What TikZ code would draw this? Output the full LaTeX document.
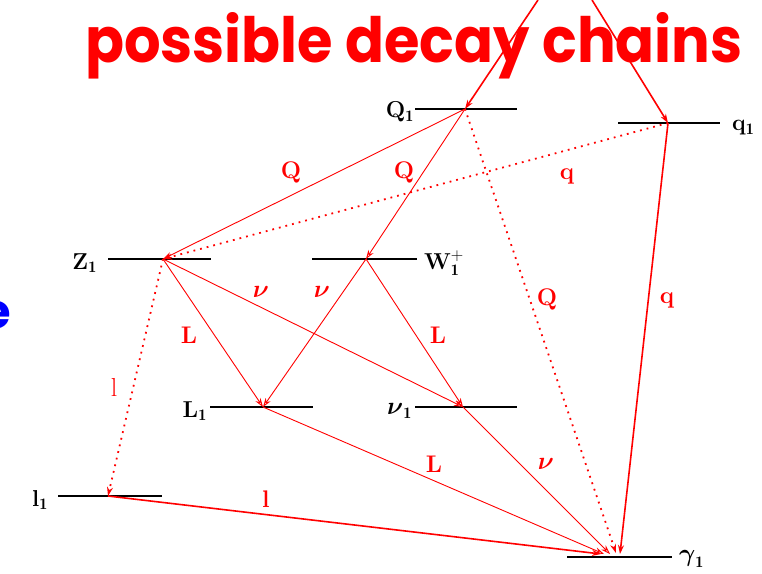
\documentclass[tikz,border=0pt]{standalone}
\usepackage{amsmath}
\usepackage{fontspec}
\usepackage{graphicx}
\usetikzlibrary{arrows.meta}
\newfontfamily\titlefont{Poppins}
\begin{document}
\begin{tikzpicture}[x=1pt,y=-1pt,
  lvl/.style={draw=black,line width=1.3pt},
  tipa/.style={-{Stealth[open,length=9pt,width=6pt]}},
  dk/.style={draw=red,line width=0.9pt,tipa},
  thk/.style={draw=red,line width=1.6pt,tipa},
  dt/.style={draw=red,line width=1.8pt,dash pattern=on 1.8pt off 5pt,tipa},
  rl/.style={text=red,inner sep=0pt,font=\bfseries\fontsize{24}{24}\selectfont},
  rg/.style={text=red,inner sep=0pt,font=\fontsize{26}{26}\selectfont},
  bl/.style={text=black,inner sep=0pt,font=\bfseries\fontsize{23}{23}\selectfont}]
\useasboundingbox (0,0) rectangle (762,573);
% title and cut-off letter
\node[anchor=base west,inner sep=0pt,text=red] (title) at (85,62)
  {\resizebox{657pt}{50pt}{\titlefont\bfseries possible decay chains}};
\node[anchor=base east,inner sep=0pt,text=blue] (bluee) at (11,328)
  {\titlefont\bfseries\fontsize{48}{48}\selectfont e};
% level lines
\draw[lvl] (415,109) -- (517,109);
\draw[lvl] (618,123) -- (720,123);
\draw[lvl] (108,259) -- (211,259);
\draw[lvl] (312,259) -- (417,259);
\draw[lvl] (210,407) -- (313,407);
\draw[lvl] (415,407) -- (517,407);
\draw[lvl] (58,496) -- (162,496);
\draw[lvl] (567,557) -- (672,557);
% vertices
\coordinate (Q1) at (465,109);
\coordinate (q1) at (668,123);
\coordinate (Z1) at (163,259);
\coordinate (W1) at (366,259);
\coordinate (L1) at (263,407);
\coordinate (nu1) at (463,407);
\coordinate (l1) at (108,496);
\coordinate (gl) at (601,554);
\coordinate (gL) at (604,554);
\coordinate (gnu) at (610,554);
\coordinate (gQ) at (616,553);
\coordinate (gq) at (620,554);
\coordinate (topQ) at (538,0);
\coordinate (topq) at (592,0);
% level labels
\node[bl,anchor=east] (Q1lbl) at (414,112) {Q$_{\mathbf 1}$};
\node[bl,anchor=west] (q1lbl) at (732,128) {q$_{\mathbf 1}$};
\node[bl,anchor=east] (Z1lbl) at (97,263) {Z$_{\mathbf 1}$};
\node[bl,anchor=west] (W1lbl) at (424,263) {W$^{+}_{\mathbf 1}$};
\node[bl,anchor=east] (L1lbl) at (207,411) {L$_{\mathbf 1}$};
\node[bl,anchor=east] (nu1lbl) at (412,411) {$\boldsymbol{\nu}_{\mathbf 1}$};
\node[bl,anchor=east] (l1lbl) at (48,500) {l$_{\mathbf 1}$};
\node[bl,anchor=west] (g1lbl) at (679,559) {$\boldsymbol{\gamma}_{\mathbf 1}$};
% connectors
\draw[thk] (topQ) -- (Q1);
\draw[thk] (topq) -- (q1);
\draw[dk] (Q1) -- (Z1);
\draw[dk] (Q1) -- (W1);
\draw[dt] (Q1) -- (gQ);
\draw[dt] (q1) -- (Z1);
\draw[thk] (q1) -- (gq);
\draw[dk] (Z1) -- (L1);
\draw[dk] (Z1) -- (nu1);
\draw[dt] (Z1) -- (l1);
\draw[dk] (W1) -- (L1);
\draw[dk] (W1) -- (nu1);
\draw[dk] (L1) -- (gL);
\draw[dk] (nu1) -- (gnu);
\draw[thk] (l1) -- (gl);
% connector labels
\node[rl] (lQa) at (291,172) {Q};
\node[rl] (lQb) at (404,172) {Q};
\node[rl] (lqa) at (567,176) {q};
\node[rl] (lQc) at (547,299) {Q};
\node[rl] (lqb) at (667,300) {q};
\node[rg] (lnua) at (261,292) {$\boldsymbol{\nu}$};
\node[rg] (lnub) at (322,292) {$\boldsymbol{\nu}$};
\node[rl] (lLa) at (189,335) {L};
\node[rl] (lLb) at (438,335) {L};
\node[rg] (lla) at (114,387) {l};
\node[rl] (lLc) at (434,464) {L};
\node[rg] (lnuc) at (546,464) {$\boldsymbol{\nu}$};
\node[rl] (llb) at (266,499) {l};
\end{tikzpicture}
\end{document}
